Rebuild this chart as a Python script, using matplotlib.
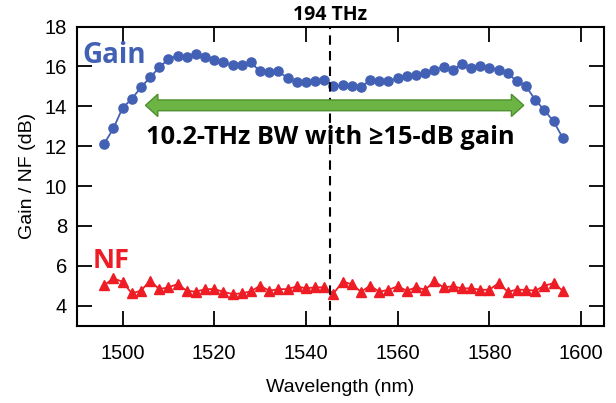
import matplotlib
matplotlib.use('Agg')
import matplotlib.pyplot as plt
from matplotlib.patches import Polygon

plt.rcParams['font.family'] = ['Liberation Sans', 'DejaVu Sans']

wavelength = list(range(1496, 1597, 2))

gain = [12.13, 12.89, 13.92, 14.37, 14.95, 15.45, 15.95, 16.37, 16.55, 16.47,
        16.62, 16.45, 16.30, 16.20, 16.05, 16.05, 16.20, 15.75, 15.72, 15.75,
        15.42, 15.20, 15.20, 15.25, 15.33, 15.00, 15.05, 15.00, 14.95, 15.33,
        15.25, 15.25, 15.42, 15.53, 15.58, 15.67, 15.83, 15.97, 15.83, 16.12,
        15.92, 16.03, 15.92, 15.83, 15.67, 15.25, 15.00, 14.33, 13.80, 13.25,
        12.42]

nf = [5.03, 5.37, 5.20, 4.62, 4.75, 5.25, 4.83, 4.92, 5.08, 4.75,
      4.70, 4.83, 4.83, 4.70, 4.58, 4.62, 4.72, 5.00, 4.75, 4.83,
      4.83, 4.97, 4.87, 4.92, 4.92, 4.61, 5.20, 5.08, 4.70, 5.00,
      4.70, 4.80, 4.97, 4.75, 4.92, 4.80, 5.22, 4.92, 4.97, 4.87,
      4.87, 4.80, 4.80, 5.13, 4.70, 4.80, 4.80, 4.75, 5.00, 5.13,
      4.75]

center_nm = 299792.458 / 194.0   # 194 THz
arrow_x = (1505.0, 1587.5)
arrow_y = 14.05

blue = '#4260B4'
red = '#EE1D25'

fig = plt.figure(figsize=(6.16, 4.03), dpi=100)
ax = fig.add_axes([0.1245, 0.192, 0.856, 0.742])

ax.plot(wavelength, gain, '-o', color=blue, ms=6.6, lw=1.3)
ax.plot(wavelength, nf, '-^', color=red, ms=7.5, lw=1.3)
ax.axvline(center_nm, color='black', lw=1.5, ls=(0, (4.5, 3)))

# double-headed bandwidth arrow
x0, x1 = arrow_x
hl, hh, sh = 2.7, 0.56, 0.27
pts = [(x0, arrow_y), (x0 + hl, arrow_y + hh), (x0 + hl, arrow_y + sh),
       (x1 - hl, arrow_y + sh), (x1 - hl, arrow_y + hh), (x1, arrow_y),
       (x1 - hl, arrow_y - hh), (x1 - hl, arrow_y - sh), (x0 + hl, arrow_y - sh),
       (x0 + hl, arrow_y - hh)]
ax.add_patch(Polygon(pts, closed=True, facecolor='#6CB544', edgecolor='#4F8F2F', lw=1.0, zorder=3))

bold = ['Open Sans', 'DejaVu Sans']
ax.text(1491.3, 16.55, 'Gain', color=blue, fontsize=20, fontweight='bold', family=bold, va='center')
ax.text(1493.5, 6.25, 'NF', color=red, fontsize=19.5, fontweight='bold', family=bold, va='center')
ax.text(center_nm, 12.45, '10.2-THz BW with \u226515-dB gain', fontsize=18.3, fontweight='bold',
        family=bold, ha='center', va='center')
ax.text(center_nm, 18.08, '194 THz', fontsize=14, fontweight='bold', family=bold,
        ha='center', va='bottom')

ax.set_xlim(1490, 1605)
ax.set_ylim(3, 18)
ax.set_xticks(range(1500, 1601, 20))
ax.set_yticks(range(4, 19, 2))
ax.tick_params(direction='in', length=10.5, width=1.3, top=True, right=True,
               labelsize=14.5)
ax.tick_params(axis='x', pad=13)
ax.tick_params(axis='y', pad=7)
for s in ax.spines.values():
    s.set_linewidth(1.5)
ax.set_xlabel('Wavelength (nm)', fontsize=14, labelpad=12)
ax.set_ylabel('Gain / NF (dB)', fontsize=14, labelpad=6)

fig.savefig('out.png', dpi=100)
